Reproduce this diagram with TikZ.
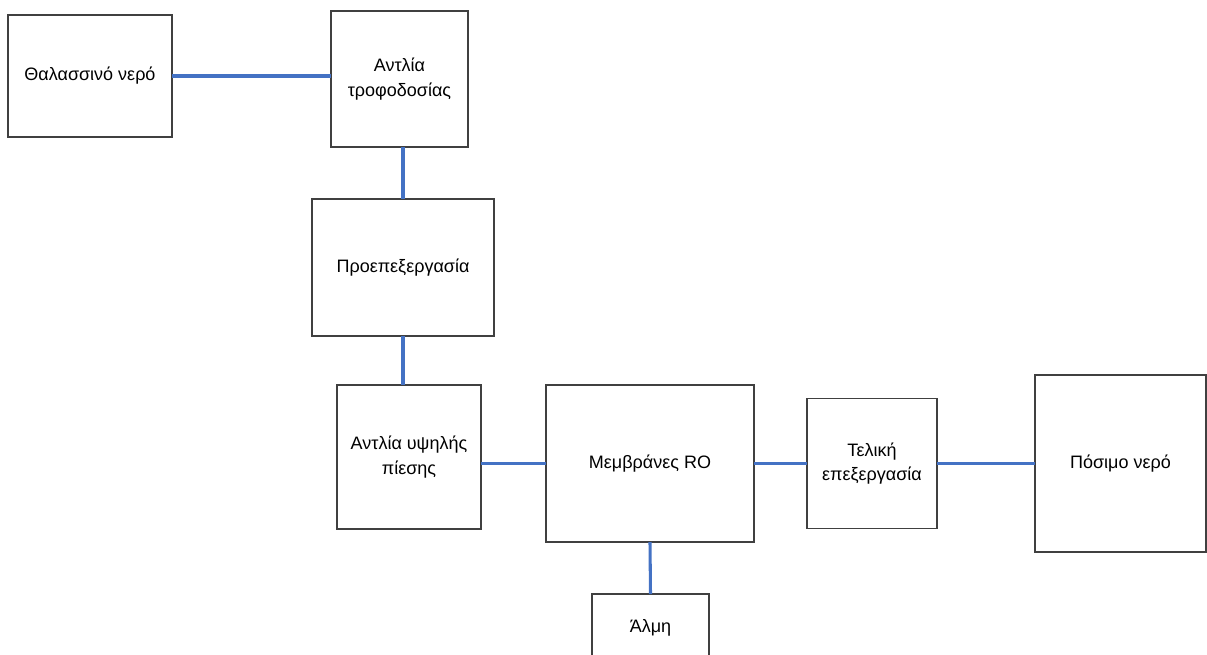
\documentclass[tikz,border=0pt]{standalone}
\usepackage{fontspec}
\setmainfont{Liberation Sans}
\usepackage{xcolor}
\usetikzlibrary{positioning, calc}
\definecolor{flowblue}{HTML}{4472C4}

\begin{document}
\begin{tikzpicture}[
  x=0.75pt, y=-0.75pt,
  unit/.style={rectangle, draw=black!75, line width=0.9pt, fill=white,
               align=center, inner sep=0pt, outer sep=0pt,
               font=\fontsize{13.5}{18.5}\selectfont},
  flow/.style={draw=flowblue, line width=2.3pt}
]
\useasboundingbox (0,0) rectangle (1207,654);
\clip (0,0) rectangle (1207,654);

% Process units (sizes in pt)
\node[unit, minimum width=123pt, minimum height=91.5pt] (sea) at (90,76)
  {Θαλασσινό νερό};
\node[unit, minimum width=102.75pt, minimum height=102pt] (feed) at (399.5,79)
  {Αντλία\\τροφοδοσίας};
\node[unit, minimum width=136.5pt, minimum height=102.75pt] (pre) at (403,267.5)
  {Προεπεξεργασία};
\node[unit, minimum width=108pt, minimum height=108pt] (hpp) at (409,457)
  {Αντλία υψηλής\\πίεσης};
\node[unit, minimum width=156pt, minimum height=117.75pt] (ro) at (650,463.5)
  {Μεμβράνες RO};
\node[unit, minimum width=97.5pt, minimum height=97.5pt] (post) at (872,463.5)
  {Τελική\\επεξεργασία};
\node[unit, minimum width=128.25pt, minimum height=132.75pt] (drink) at (1120.5,463.5)
  {Πόσιμο νερό};
\node[unit, minimum width=87.75pt, minimum height=51pt] (brine) at (650.5,628)
  {Άλμη};

% Connecting pipes
\draw[flow] (sea.east) -- (sea.east -| feed.west);
\draw[flow] (pre.north |- feed.south) -- (pre.north);
\draw[flow] (pre.south) -- (pre.south |- hpp.north);
\draw[flow] (ro.west -| hpp.east) -- (ro.west);
\draw[flow] (ro.east) -- (ro.east -| post.west);
\draw[flow] (post.east) -- (post.east -| drink.west);
\draw[flow] (ro.south) -- (brine.north);

\end{tikzpicture}
\end{document}
